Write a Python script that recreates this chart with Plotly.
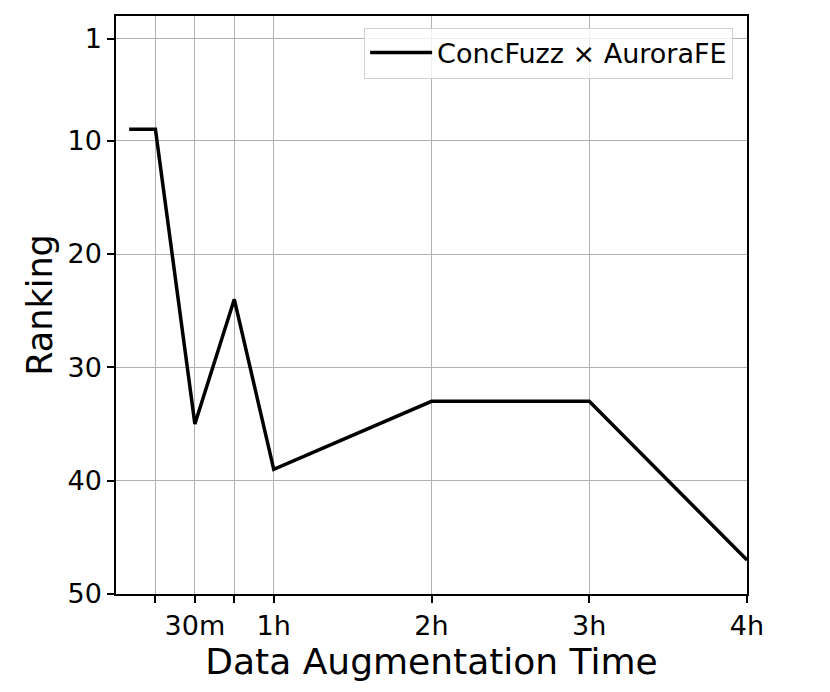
import plotly.graph_objects as go

minutes = [5, 15, 30, 45, 60, 120, 180, 240]
ranking = [9, 9, 35, 24, 39, 33, 33, 47]
series_name = "ConcFuzz × AuroraFE"

x_tickvals = [15, 30, 45, 60, 120, 180, 240]
x_ticktext = ["", "30m", "", "1h", "2h", "3h", "4h"]
y_tickvals = [1, 10, 20, 30, 40, 50]

FONT = "DejaVu Sans"

fig = go.Figure()
fig.add_trace(go.Scatter(
    x=minutes, y=ranking, mode="lines", name=series_name,
    line=dict(color="black", width=3.5),
))

axis_common = dict(
    showline=True, linecolor="black", linewidth=1.5, mirror=True,
    ticks="outside", ticklen=7, tickwidth=1.5, tickcolor="black",
    showgrid=True, gridcolor="#b0b0b0", gridwidth=1, zeroline=False,
    tickfont=dict(family=FONT, size=27, color="black"),
)

fig.update_xaxes(
    range=[0, 240], tickvals=x_tickvals, ticktext=x_ticktext,
    title=dict(text="Data Augmentation Time", font=dict(family=FONT, size=36, color="black"), standoff=6),
    **axis_common,
)
fig.update_yaxes(
    range=[50, -1], tickvals=y_tickvals,
    title=dict(text="Ranking", font=dict(family=FONT, size=35, color="black"), standoff=4),
    **axis_common,
)

fig.update_layout(
    width=830, height=692,
    margin=dict(l=108, r=91, t=6, b=106),
    paper_bgcolor="white", plot_bgcolor="white",
    font=dict(family=FONT, color="black"),
    showlegend=True,
    legend=dict(
        x=0.978, y=0.98, xanchor="right", yanchor="top",
        bgcolor="rgba(255,255,255,0.8)", bordercolor="#d0d0d0", borderwidth=1,
        font=dict(family=FONT, size=27, color="black"),
        itemwidth=62,
    ),
)

fig.write_html("out.html")
